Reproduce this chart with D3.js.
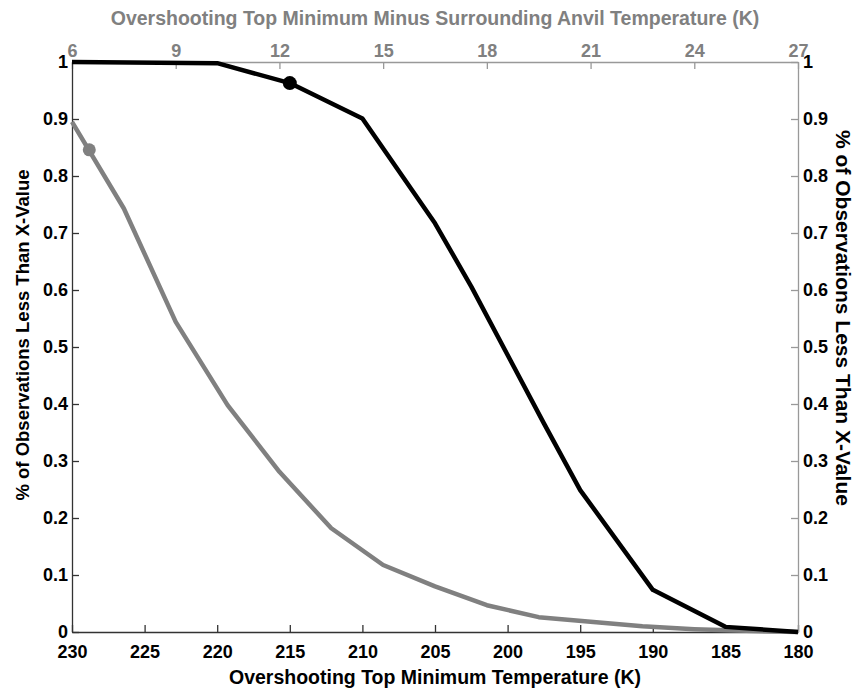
<!DOCTYPE html>
<html>
<head>
<meta charset="utf-8">
<script src="https://cdn.jsdelivr.net/npm/d3@7"></script>
<style>
  body { margin: 0; background: #fff; }
  svg text { font-family: "Liberation Sans", Arial, Helvetica, sans-serif; font-weight: bold; }
</style>
</head>
<body>
<div id="chart"></div>
<script>
// black curve: minimum temperature (bottom axis, K) vs fraction of observations
var tempK = [230, 220, 215, 210, 205, 202.5, 197.5, 195, 190, 185, 180];
var tempFrac = [1, 0.998, 0.963, 0.901, 0.717, 0.606, 0.366, 0.249, 0.074, 0.009, 0];

// gray curve: minimum minus anvil temperature (top axis, K)
var diffK = [6, 7.5, 9, 10.5, 12, 13.5, 15, 16.5, 18, 19.5, 21, 22.5, 24, 25.5, 27];
var diffFrac = [0.895, 0.743, 0.544, 0.398, 0.281, 0.182, 0.1175, 0.08, 0.047, 0.026, 0.018, 0.01, 0.005, 0.002, 0];

// highlighted points
var tempMarker = [215, 0.963];
var diffMarker = [6.5, 0.846];

var bottomTicks = [230, 225, 220, 215, 210, 205, 200, 195, 190, 185, 180];
var topTicks = [6, 9, 12, 15, 18, 21, 24, 27];
var yTicks = [0, 0.1, 0.2, 0.3, 0.4, 0.5, 0.6, 0.7, 0.8, 0.9, 1];

var width = 858;
var height = 688;
var margin = { top: 62, right: 60, bottom: 56, left: 72 };

var gray = '#808080';

document.addEventListener('DOMContentLoaded', init, false);

function init() {

  var w = width - margin.left - margin.right;
  var h = height - margin.top - margin.bottom;

  var svg = d3.select('#chart')
    .append('svg')
      .attr('width', width)
      .attr('height', height);

  var chart = svg.append('g')
    .attr('transform', 'translate(' + margin.left + ',' + margin.top + ')');

  var x = d3.scaleLinear().domain([230, 180]).range([0, w]);
  var xTop = d3.scaleLinear().domain([6, 27]).range([0, w]);
  var y = d3.scaleLinear().domain([0, 1]).range([h, 0]);

  var fmtY = function (d) { return d === 0 || d === 1 ? d : d3.format('.1f')(d); };

  // axes
  var bottom = chart.append('g')
    .attr('transform', 'translate(0,' + h + ')')
    .call(d3.axisBottom(x).tickValues(bottomTicks).tickSizeInner(-7).tickSizeOuter(0).tickPadding(13));

  var top = chart.append('g')
    .call(d3.axisTop(xTop).tickValues(topTicks).tickSizeInner(-7).tickSizeOuter(0).tickPadding(5));

  var left = chart.append('g')
    .call(d3.axisLeft(y).tickValues(yTicks).tickFormat(fmtY).tickSizeInner(-7).tickSizeOuter(0).tickPadding(4));

  var right = chart.append('g')
    .attr('transform', 'translate(' + w + ',0)')
    .call(d3.axisRight(y).tickValues(yTicks).tickFormat(fmtY).tickSizeInner(-7).tickSizeOuter(0).tickPadding(5));

  [bottom, left].forEach(function (a) {
    a.select('.domain').attr('stroke', '#333').attr('stroke-width', 1.3);
    a.selectAll('.tick line').attr('stroke', '#333').attr('stroke-width', 1.3);
    a.selectAll('text').attr('fill', '#000').attr('font-size', 18);
  });

  [top, right].forEach(function (a) {
    a.select('.domain').attr('stroke', '#999').attr('stroke-width', 1.3);
    a.selectAll('.tick line').attr('stroke', '#999').attr('stroke-width', 1.3);
    a.selectAll('text').attr('fill', '#000').attr('font-size', 18);
  });
  top.selectAll('text').attr('fill', gray);

  // lines
  var lineTemp = d3.line()
    .x(function (d, i) { return x(tempK[i]); })
    .y(function (d) { return y(d); });

  var lineDiff = d3.line()
    .x(function (d, i) { return xTop(diffK[i]); })
    .y(function (d) { return y(d); });

  chart.append('path')
    .attr('fill', 'none')
    .attr('stroke', gray)
    .attr('stroke-width', 4.5)
    .attr('stroke-linejoin', 'round')
    .attr('d', lineDiff(diffFrac));

  chart.append('path')
    .attr('fill', 'none')
    .attr('stroke', '#000')
    .attr('stroke-width', 4.5)
    .attr('stroke-linejoin', 'round')
    .attr('d', lineTemp(tempFrac));

  chart.append('circle')
    .attr('cx', xTop(diffMarker[0]))
    .attr('cy', y(diffMarker[1]))
    .attr('r', 6.5)
    .attr('fill', gray);

  chart.append('circle')
    .attr('cx', x(tempMarker[0]))
    .attr('cy', y(tempMarker[1]))
    .attr('r', 7)
    .attr('fill', '#000');

  // titles
  svg.append('text')
    .attr('x', margin.left + w / 2)
    .attr('y', 684)
    .attr('text-anchor', 'middle')
    .attr('font-size', 19.5)
    .attr('fill', '#000')
    .text('Overshooting Top Minimum Temperature (K)');

  svg.append('text')
    .attr('x', margin.left + w / 2)
    .attr('y', 25)
    .attr('text-anchor', 'middle')
    .attr('font-size', 19.5)
    .attr('fill', gray)
    .text('Overshooting Top Minimum Minus Surrounding Anvil Temperature (K)');

  svg.append('text')
    .attr('transform', 'translate(29,335) rotate(-90)')
    .attr('text-anchor', 'middle')
    .attr('font-size', 18.5)
    .attr('fill', '#000')
    .text('% of Observations Less Than X-Value');

  svg.append('text')
    .attr('transform', 'translate(836,318) rotate(90)')
    .attr('text-anchor', 'middle')
    .attr('font-size', 21)
    .attr('fill', '#000')
    .text('% of Observations Less Than X-Value');
}
</script>
</body>
</html>
